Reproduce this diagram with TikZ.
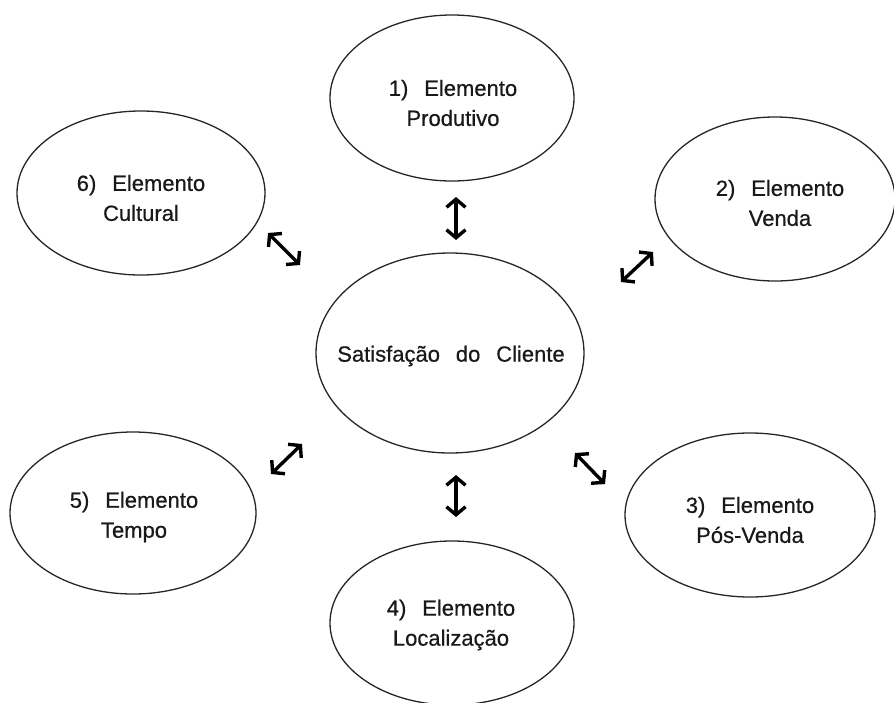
\documentclass[tikz,border=0pt]{standalone}
\usepackage{fontspec}
\setmainfont[WordSpace=2.6,FakeBold=0.6]{Liberation Sans}
\usetikzlibrary{shapes.geometric,arrows.meta}

\tikzset{
  elem/.style={ellipse, draw=black!85, line width=1.3pt, inner sep=0pt},
  lbl/.style={align=center, font=\fontsize{22}{30}\selectfont, text=black!90, inner sep=0pt},
  link/.style={line width=3.4pt, draw=black,
    arrows={Straight Barb[length=8pt,width=19pt]-Straight Barb[length=8pt,width=19pt]}}
}

\begin{document}
\begin{tikzpicture}[x=1pt,y=-1pt]
  \useasboundingbox (0,0) rectangle (894,702);

  % outer elements and the central ellipse
  \node[elem, minimum width=244pt, minimum height=166pt] (e1) at (452,98) {};
  \node[elem, minimum width=240pt, minimum height=164pt] (e2) at (775,199) {};
  \node[elem, minimum width=250pt, minimum height=164pt] (e3) at (750,515) {};
  \node[elem, minimum width=244pt, minimum height=164pt] (e4) at (452,623) {};
  \node[elem, minimum width=246pt, minimum height=162pt] (e5) at (133,513) {};
  \node[elem, minimum width=248pt, minimum height=164pt] (e6) at (141,193) {};
  \node[elem, minimum width=268pt, minimum height=200pt] (ec) at (450,353) {};

  % labels
  \node[lbl] (t1) at (453,103) {1) Elemento\\Produtivo};
  \node[lbl] (t2) at (780,203) {2) Elemento\\Venda};
  \node[lbl] (t3) at (750,520) {3) Elemento\\Pós-Venda};
  \node[lbl] (t4) at (451,625) {4) Elemento\\Localização};
  \node[lbl] (t5) at (134,517) {5) Elemento\\Tempo};
  \node[lbl] (t6) at (141,198) {6) Elemento\\Cultural};
  \node[lbl] (tc) at (451,356) {Satisfação do Cliente};

  % end points of the double arrows
  \coordinate (a1s) at (456,197); \coordinate (a1e) at (456,240);
  \coordinate (a2s) at (621,282); \coordinate (a2e) at (653,252);
  \coordinate (a3s) at (575,453); \coordinate (a3e) at (605,484);
  \coordinate (a4s) at (456,475); \coordinate (a4e) at (456,517);
  \coordinate (a5s) at (271,474); \coordinate (a5e) at (302,444);
  \coordinate (a6s) at (268,233); \coordinate (a6e) at (300,265);

  \draw[link] (a1s) -- (a1e);
  \draw[link] (a2s) -- (a2e);
  \draw[link] (a3s) -- (a3e);
  \draw[link] (a4s) -- (a4e);
  \draw[link] (a5s) -- (a5e);
  \draw[link] (a6s) -- (a6e);
\end{tikzpicture}
\end{document}
